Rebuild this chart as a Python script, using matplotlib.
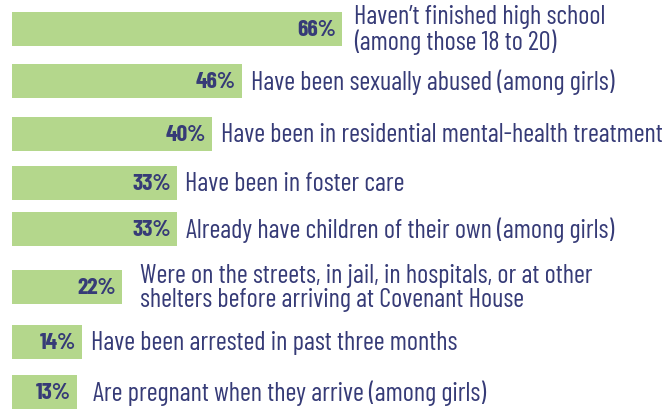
import matplotlib

matplotlib.use("Agg")
import matplotlib.pyplot as plt
from matplotlib import font_manager

# data
labels = [
    "Haven\u2019t finished high school\n(among those 18 to 20)",
    "Have been sexually abused (among girls)",
    "Have been in residential mental-health treatment",
    "Have been in foster care",
    "Already have children of their own (among girls)",
    "Were on the streets, in jail, in hospitals, or at other\nshelters before arriving at Covenant House",
    "Have been arrested in past three months",
    "Are pregnant when they arrive (among girls)",
]
values = [66, 46, 40, 33, 33, 22, 14, 13]

# layout (pixel rows, gap between bar end and label in % units)
row_y = [29, 81, 134, 183, 229, 287, 342, 392]
label_gap = [2.4, 1.8, 1.8, 1.6, 1.8, 3.5, 1.7, 3.1]

BAR = "#b4d78c"
NAVY = "#363b77"

names = {f.name for f in font_manager.fontManager.ttflist}
family = next((f for f in ["Barlow Condensed", "PT Sans Narrow", "Roboto Condensed",
                           "Fira Sans Condensed"] if f in names), "DejaVu Sans")

fig = plt.figure(figsize=(6.68, 4.13), dpi=100)
ax = fig.add_axes([12 / 668, 0, 656 / 668, 1])
ax.set_xlim(0, 656 / 5)
ax.set_ylim(413, 0)
ax.axis("off")

ax.barh(row_y, values, height=34, color=BAR, left=0)
for y, v, lab, g in zip(row_y, values, labels, label_gap):
    ax.text(v - 1.3, y + 1, f"{v}%", ha="right", va="center", color=NAVY,
            fontsize=17, fontweight="bold", family=family)
    ax.text(v + g, y + 1, lab, ha="left", va="center", color=NAVY,
            fontsize=19, family=family, linespacing=1.0)

fig.savefig("out.png", dpi=100)
